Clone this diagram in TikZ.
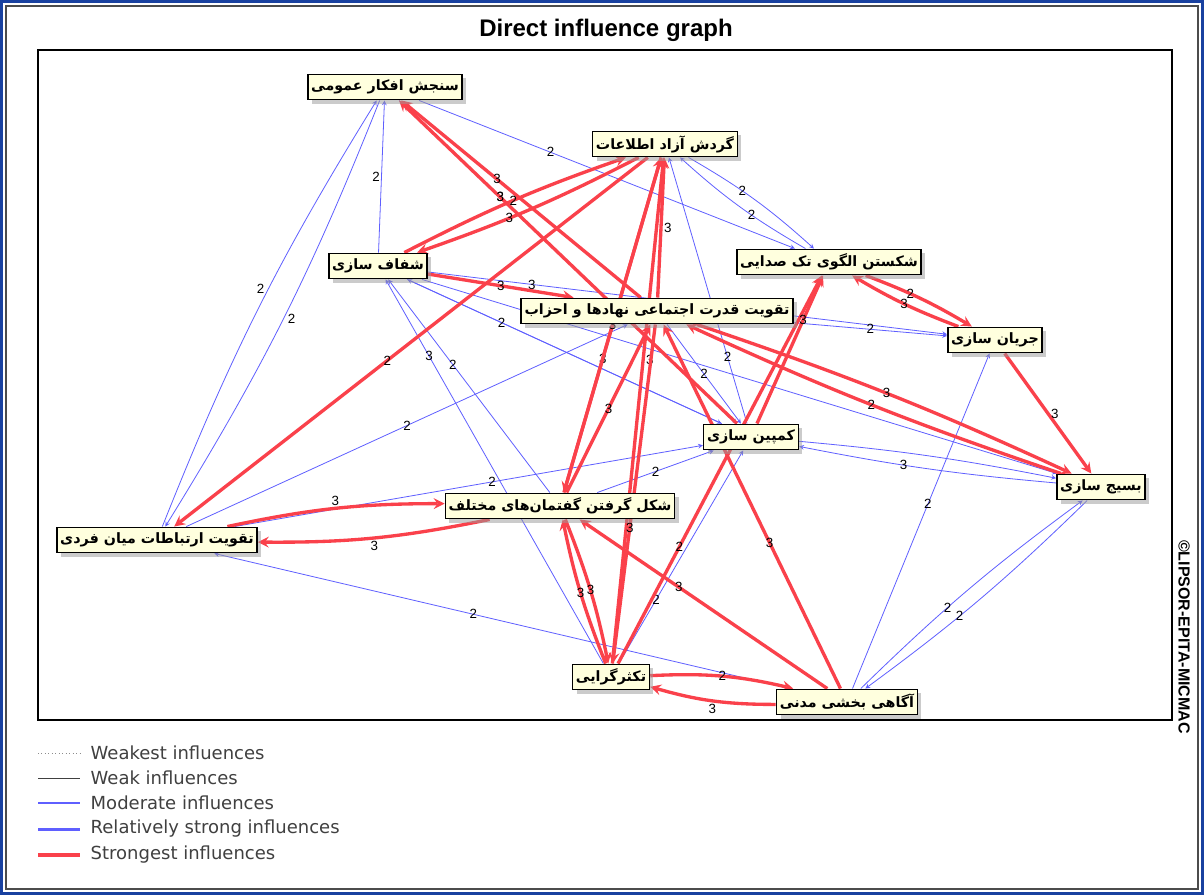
\documentclass[tikz,border=0pt]{standalone}
\usepackage{fontspec}
\setmainfont{Liberation Sans}
\newfontfamily\arabicfont[Script=Arabic]{DejaVu Sans}
\newfontfamily\legfont{DejaVu Sans}
\TeXXeTstate=1
\usetikzlibrary{arrows,shadows,backgrounds,positioning}
\definecolor{modblue}{RGB}{95,95,255}
\definecolor{strred}{RGB}{250,65,75}
\definecolor{boxfill}{RGB}{255,255,222}
\definecolor{rimblue}{RGB}{25,65,160}
\newcommand{\fa}[1]{{\arabicfont\beginR #1\endR}}

\begin{document}
\begin{tikzpicture}
[x=0.75pt,y=-0.75pt,>=stealth,
factor/.style = {draw, line width=1.2pt, fill=boxfill, inner sep=2.5pt, minimum height=19pt, drop shadow={shadow xshift=3pt,shadow yshift=-3pt,fill=black!40}, font=\fontsize{10.7}{12}\selectfont\bfseries},
moderate/.style = {->, draw=modblue, line width=0.6pt},
strongest/.style = {->, draw=strred, line width=2.5pt},
val/.style = {font=\fontsize{10}{11}\selectfont, inner sep=1pt},
legtext/.style = {anchor=west, font=\legfont\fontsize{13.5}{15}\selectfont, text=black!75},]
\useasboundingbox (0,0) rectangle (1204,895);
\node (title) at (606,30) {\fontsize{18}{20}\selectfont\bfseries Direct influence graph};
\node (copy) at (1184,637)[rotate=-90] {\fontsize{12}{13}\selectfont\bfseries \textcopyright LIPSOR-EPITA-MICMAC};
% factors
\node (poll) at (385,87)[factor] {\fa{سنجش افکار عمومی}};
\node (freeinfo) at (665,144)[factor] {\fa{گردش آزاد اطلاعات}};
\node (transp) at (378,266)[factor] {\fa{شفاف سازی}};
\node (monovoice) at (829,262)[factor] {\fa{شکستن الگوی تک صدایی}};
\node (parties) at (657,311)[factor] {\fa{تقویت قدرت اجتماعی نهادها و احزاب}};
\node (trend) at (995,340)[factor] {\fa{جریان سازی}};
\node (campaign) at (751,437)[factor] {\fa{کمپین سازی}};
\node (mobil) at (1101,487)[factor] {\fa{بسیج سازی}};
\node (discourse) at (560,506)[factor] {\fa{شکل گرفتن گفتمان‌های مختلف}};
\node (interpers) at (157,540)[factor] {\fa{تقویت ارتباطات میان فردی}};
\node (plural) at (611,677)[factor] {\fa{تکثرگرایی}};
\node (civic) at (847,702)[factor] {\fa{آگاهی بخشی مدنی}};
\begin{pgfonlayer}{background}
\fill[white] (0,0) rectangle (1204,895);
\draw[rimblue, line width=3pt] (1,1) rectangle (1203,894);
\draw[black!70, line width=1pt] (6,6) rectangle (1198,889);
\draw[black, line width=1.2pt] (38,50) rectangle (1172,720);
% moderate influences
\draw[moderate] (interpers) to[bend left=5] node[val,pos=.55,left=2pt]{2} (poll);
\draw[moderate] (poll) to[bend left=5] node[val,pos=.5,right=2pt]{2} (interpers);
\draw[moderate] (transp) -- node[val,pos=.5,left]{2} (poll);
\draw[moderate] (poll) -- node[val,pos=.35]{2} (monovoice);
\draw[moderate] (poll) -- node[val,pos=.3]{3} (campaign);
\draw[moderate] (freeinfo) to[bend left=6] node[val,pos=.4]{2} (monovoice);
\draw[moderate] (monovoice) to[bend left=6] node[val,pos=.4]{2} (freeinfo);
\draw[moderate] (transp) -- node[val,pos=.2]{3} (trend);
\draw[moderate] (transp) -- (campaign);
\draw[moderate] (transp) -- (mobil);
\draw[moderate] (campaign) -- node[val,pos=.7]{2} (transp);
\draw[moderate] (plural) -- node[val,pos=.8]{3} (transp);
\draw[moderate] (discourse) -- node[val,pos=.6]{2} (transp);
\draw[moderate] (interpers) -- node[val,pos=.5]{2} (parties);
\draw[moderate] (interpers) -- node[val,pos=.55]{2} (campaign);
\draw[moderate] (civic) -- node[val,pos=.55]{2} (interpers);
\draw[moderate] (civic) -- node[val,pos=.55]{2} (trend);
\draw[moderate] (civic) to[bend left=4] node[val,pos=.4]{2} (mobil);
\draw[moderate] (mobil) to[bend left=4] node[val,pos=.6]{2} (civic);
\draw[moderate] (mobil) to[bend left=3] node[val,pos=.6]{3} (campaign);
\draw[moderate] (campaign) to[bend left=3] (mobil);
\draw[moderate] (parties) -- node[val,pos=.5]{2} (trend);
\draw[moderate] (parties) -- node[val,pos=.5]{2} (campaign);
\draw[moderate] (plural) -- node[val,pos=.3]{2} (campaign);
\draw[moderate] (discourse) -- node[val,pos=.5]{2} (campaign);
\draw[moderate] (campaign) -- node[val,pos=.25]{2} (freeinfo);
% strongest influences
\draw[strongest] (parties) -- node[val,pos=.6]{3} (poll);
\draw[strongest] (campaign) -- node[val,pos=.7]{3} (poll);
\draw[strongest] (transp) to[bend left=4] node[val,pos=.5]{2} (freeinfo);
\draw[strongest] (freeinfo) to[bend left=4] node[val,pos=.6]{3} (transp);
\draw[strongest] (transp) -- node[val,pos=.5]{3} (parties);
\draw[strongest] (freeinfo) -- node[val,pos=.55]{2} (interpers);
\draw[strongest] (freeinfo) -- node[val,pos=.6]{3} (discourse);
\draw[strongest] (discourse) -- node[val,pos=.5]{3} (freeinfo);
\draw[strongest] (parties) -- node[val,pos=.5,right]{3} (freeinfo);
\draw[strongest] (plural) -- node[val,pos=.6,right]{3} (freeinfo);
\draw[strongest] (interpers) to[bend left=6] node[val,pos=.5,above]{3} (discourse);
\draw[strongest] (discourse) to[bend left=6] node[val,pos=.5,below]{3} (interpers);
\draw[strongest] (plural) to[bend left=5] node[val,pos=.5]{3} (discourse);
\draw[strongest] (discourse) to[bend left=5] node[val,pos=.5]{3} (plural);
\draw[strongest] (civic) -- node[val,pos=.6]{3} (discourse);
\draw[strongest] (civic) to[bend left=8] node[val,pos=.5,below]{3} (plural);
\draw[strongest] (plural) to[bend left=8] node[val,pos=.5]{2} (civic);
\draw[strongest] (plural) -- node[val,pos=.3]{2} (monovoice);
\draw[strongest] (campaign) -- node[val,pos=.7]{3} (monovoice);
\draw[strongest] (monovoice) to[bend left=5] node[val,pos=.4]{2} (trend);
\draw[strongest] (trend) to[bend left=5] node[val,pos=.5]{3} (monovoice);
\draw[strongest] (trend) -- node[val,pos=.5,right]{3} (mobil);
\draw[strongest] (parties) to[bend left=3] node[val,pos=.5]{3} (mobil);
\draw[strongest] (mobil) to[bend left=3] node[val,pos=.5]{2} (parties);
\draw[strongest] (civic) -- node[val,pos=.4]{3} (parties);
\draw[strongest] (discourse) -- node[val,pos=.5]{3} (parties);
\draw[strongest] (parties) -- node[val,pos=.6]{3} (plural);
\end{pgfonlayer}
% legend
\node (leg1) at (86,753)[legtext] {Weakest influences};
\node (leg2) at (86,778)[legtext] {Weak influences};
\node (leg3) at (86,803)[legtext] {Moderate influences};
\node (leg4) at (86,829)[legtext] {Relatively strong influences};
\node (leg5) at (86,855)[legtext] {Strongest influences};
\draw[line width=0.6pt, black!45, dotted] (38,753) -- (80,753);
\draw[line width=0.7pt, black!75] (38,778) -- (80,778);
\draw[line width=0.8pt, modblue] (38,803) -- (80,803);
\fill[modblue] (38,827.5) rectangle (80,830.5);
\fill[strred] (38,853.3) rectangle (80,856.7);
\end{tikzpicture}
\end{document}
